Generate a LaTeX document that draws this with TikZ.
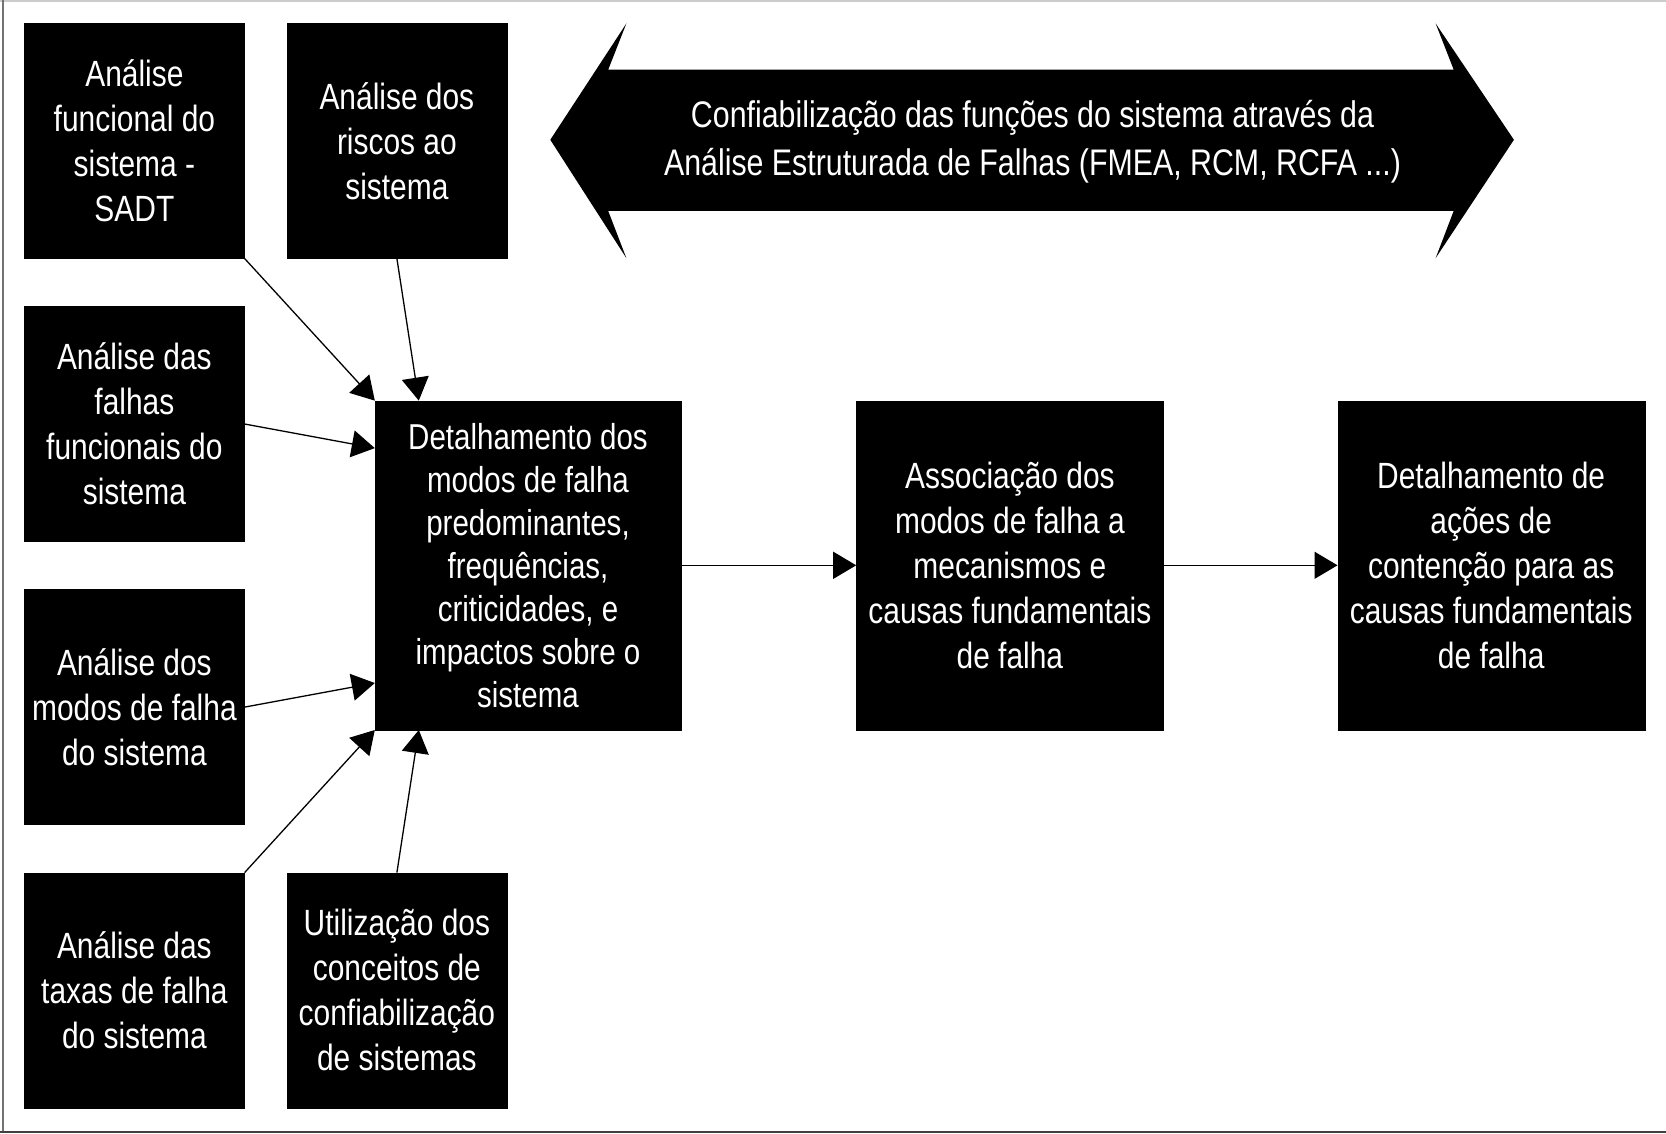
\documentclass[tikz,border=0pt]{standalone}
\usepackage{fontspec}
\setmainfont{Liberation Sans}[FakeStretch=0.82]
\usetikzlibrary{arrows.meta,calc}
\begin{document}
\begin{tikzpicture}[x=1pt,y=-1pt,
  blk/.style={draw=black,fill=black,text=white,inner sep=0pt,align=center,
    font=\fontsize{36.5}{45}\selectfont},
  sbox/.style={blk,minimum width=220pt,minimum height=235pt},
  bbox/.style={blk,minimum width=307pt,minimum height=329pt},
  conn/.style={line width=1.3pt,-{Triangle[length=23pt,width=27pt]}}
]
\useasboundingbox (0,0) rectangle (1666,1133);
% frame
\draw[line width=1.5pt,black!20] (0,0.75) -- (1666,0.75);
\draw[line width=1.5pt,black!55] (3,0) -- (3,1133);
\draw[line width=1.5pt,black!75] (0,1132) -- (1666,1132);

% left column boxes
\node[sbox] (A) at (134.4,140.8) {Análise\\funcional do\\sistema -\\SADT};
\node[sbox] (B) at (396.9,140.8) {Análise dos\\riscos ao\\sistema};
\node[sbox] (C) at (134.4,424) {Análise das\\falhas\\funcionais do\\sistema};
\node[sbox] (D) at (134.4,707.1) {Análise dos\\modos de falha\\do sistema};
\node[sbox] (E) at (134.4,990.3) {Análise das\\taxas de falha\\do sistema};
\node[sbox] (F) at (396.9,990.3) {Utilização dos\\conceitos de\\confiabilização\\de sistemas};

% main row
\node[bbox,minimum width=306pt,font=\fontsize{36}{43}\selectfont] (G) at (528,565.3) {Detalhamento dos\\modos de falha\\predominantes,\\frequências,\\criticidades, e\\impactos sobre o\\sistema};
\node[bbox] (H) at (1009.9,565.3) {Associação dos\\modos de falha a\\mecanismos e\\causas fundamentais\\de falha};
\node[bbox] (I) at (1491.2,565.3) {Detalhamento de\\ações de\\contenção para as\\causas fundamentais\\de falha};

% double arrow banner
\fill[black] (550.3,139.8) -- (626.4,23.4) -- (608.2,69.7) -- (1453.7,69.7)
  -- (1435.6,23.4) -- (1513.9,139.8) -- (1435.6,258.2) -- (1453.7,210.9)
  -- (608.2,210.9) -- (626.4,258.2) -- cycle;
\node[text=white,align=center,font=\fontsize{37}{48}\selectfont,inner sep=0pt]
  (T) at (1032.5,142) {Confiabilização das funções do sistema através da\\Análise Estruturada de Falhas (FMEA, RCM, RCFA ...)};

% connectors
\draw[conn] (A.south east) -- (G.north west);
\draw[conn] (B.south) -- ($(G.north west)+(44,0)$);
\draw[conn] (C.east) -- ($(G.north west)+(0,47.5)$);
\draw[conn] (D.east) -- ($(G.south west)+(0,-47)$);
\draw[conn] (E.north east) -- (G.south west);
\draw[conn] (F.north) -- ($(G.south west)+(44,0)$);
\draw[conn] (G.east) -- (H.west);
\draw[conn] (H.east) -- (I.west);
\end{tikzpicture}
\end{document}
